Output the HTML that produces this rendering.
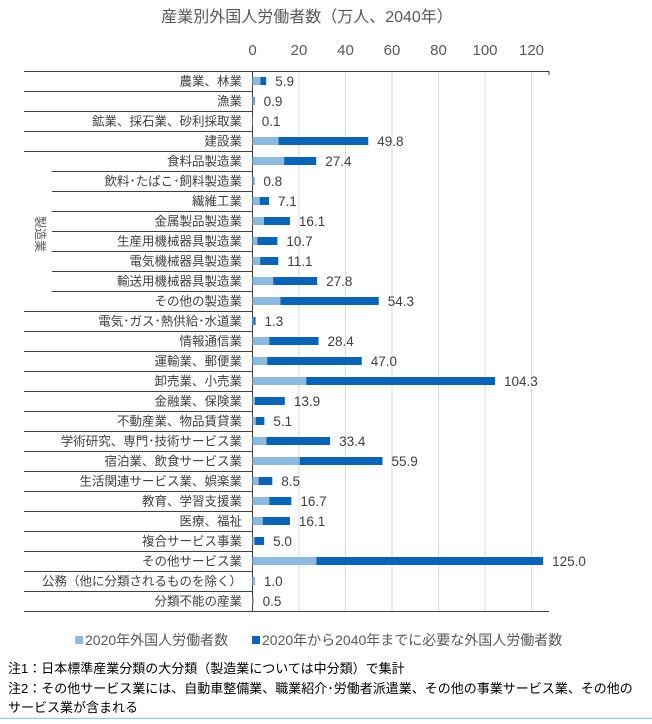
<!DOCTYPE html>
<html><head><meta charset="utf-8"><style>
body{margin:0;background:#fff;width:652px;height:719px;overflow:hidden}
svg text{font-family:"Liberation Sans","Noto Sans CJK JP",sans-serif}
</style></head><body>
<svg id="c" width="652" height="719" xmlns="http://www.w3.org/2000/svg">
<text x="307" y="22" font-size="16" fill="#595959" text-anchor="middle">産業別外国人労働者数（万人、2040年）</text>
<g id="grid"></g><g id="table"></g><g id="bars"></g>
<text x="36" y="234" font-size="12" fill="#595959" text-anchor="middle" transform="rotate(90 36 234)">製造業</text>
<rect x="75" y="636" width="8" height="8" fill="#8dbbe0"/>
<text x="85" y="645" font-size="14" fill="#595959">2020年外国人労働者数</text>
<rect x="252" y="636" width="8" height="8" fill="#0a63b4"/>
<text x="262" y="645" font-size="14" fill="#595959">2020年から2040年までに必要な外国人労働者数</text>
<text x="8" y="673" font-size="13" fill="#000">注1：日本標準産業分類の大分類（製造業については中分類）で集計</text>
<text x="8" y="693" font-size="13" fill="#000">注2：その他サービス業には、自動車整備業、職業紹介･労働者派遣業、その他の事業サービス業、その他の</text>
<text x="8" y="712" font-size="13" fill="#000">サービス業が含まれる</text>
<line x1="0" y1="718.5" x2="652" y2="718.5" stroke="#9cc8ea" stroke-width="1.5"/>
</svg>
<script>
const categories=["農業、林業","漁業","鉱業、採石業、砂利採取業","建設業","食料品製造業","飲料･たばこ･飼料製造業","繊維工業","金属製品製造業","生産用機械器具製造業","電気機械器具製造業","輸送用機械器具製造業","その他の製造業","電気･ガス･熱供給･水道業","情報通信業","運輸業、郵便業","卸売業、小売業","金融業、保険業","不動産業、物品賃貸業","学術研究、専門･技術サービス業","宿泊業、飲食サービス業","生活関連サービス業、娯楽業","教育、学習支援業","医療、福祉","複合サービス事業","その他サービス業","公務（他に分類されるものを除く）","分類不能の産業"];
const values2020=[3.4,0.5,0.05,11.2,13.6,0.5,3.1,4.9,2.1,3.3,8.9,12.0,0.4,7.2,6.3,23.1,1.0,1.4,6.0,20.3,2.6,7.2,4.4,0.9,27.5,0.9,0.4];
const totals2040=[5.9,0.9,0.1,49.8,27.4,0.8,7.1,16.1,10.7,11.1,27.8,54.3,1.3,28.4,47.0,104.3,13.9,5.1,33.4,55.9,8.5,16.7,16.1,5.0,125.0,1.0,0.5];
const totalLabels=["5.9","0.9","0.1","49.8","27.4","0.8","7.1","16.1","10.7","11.1","27.8","54.3","1.3","28.4","47.0","104.3","13.9","5.1","33.4","55.9","8.5","16.7","16.1","5.0","125.0","1.0","0.5"];
const ticks=[0,20,40,60,80,100,120];
const NS="http://www.w3.org/2000/svg";
const x0=252.5,ppu=2.325,topY=71,rowH=20,N=categories.length,bottomY=topY+rowH*N;
const xs=v=>x0+v*ppu, ys=i=>topY+i*rowH;
function mk(t,a,p){const e=document.createElementNS(NS,t);for(const k in a)e.setAttribute(k,a[k]);p.appendChild(e);return e;}
const grid=document.getElementById('grid'),table=document.getElementById('table'),bars=document.getElementById('bars');
ticks.forEach(t=>{
 if(t>0){const l=mk('line',{x1:xs(t),x2:xs(t),y1:topY,y2:bottomY,stroke:'#d9d9d9'},grid);
 
 }
 const tx=mk('text',{x:xs(t),y:55,'font-size':15,fill:'#595959','text-anchor':'middle'},grid);tx.textContent=t;
 
 
});
mk('line',{x1:24,x2:549,y1:topY+0.5,y2:topY+0.5,stroke:'#404040'},table);
mk('line',{x1:549,x2:549,y1:topY,y2:topY+4,stroke:'#404040'},table);
mk('line',{x1:24,x2:549,y1:bottomY+0.5,y2:bottomY+0.5,stroke:'#404040'},table);
mk('line',{x1:x0,x2:x0,y1:topY,y2:bottomY,stroke:'#404040'},table);
for(let i=1;i<N;i++){
 const inMfg=i>=5&&i<=11;
 mk('line',{x1:inMfg?52:24,x2:x0,y1:ys(i)+0.5,y2:ys(i)+0.5,stroke:'#404040'},table);
}
categories.forEach((c,i)=>{
 const cy=ys(i)+rowH/2;
 const lab=mk('text',{x:242,y:cy+4.5,'font-size':12.5,fill:'#404040','text-anchor':'end'},table);lab.textContent=c;
 
 
 const a=mk('rect',{x:x0,y:cy-4,width:Math.max(values2020[i]*ppu,0.5),height:8,fill:'#8dbbe0'},bars);
 
 
 const b=mk('rect',{x:xs(values2020[i]),y:cy-4,width:Math.max((totals2040[i]-values2020[i])*ppu,0),height:8,fill:'#0a63b4'},bars);
 
 
 const v=mk('text',{x:xs(totals2040[i])+9,y:cy+5,'font-size':13.5,fill:'#404040'},bars);v.textContent=totalLabels[i];
 
 
});
</script>
</body></html>
